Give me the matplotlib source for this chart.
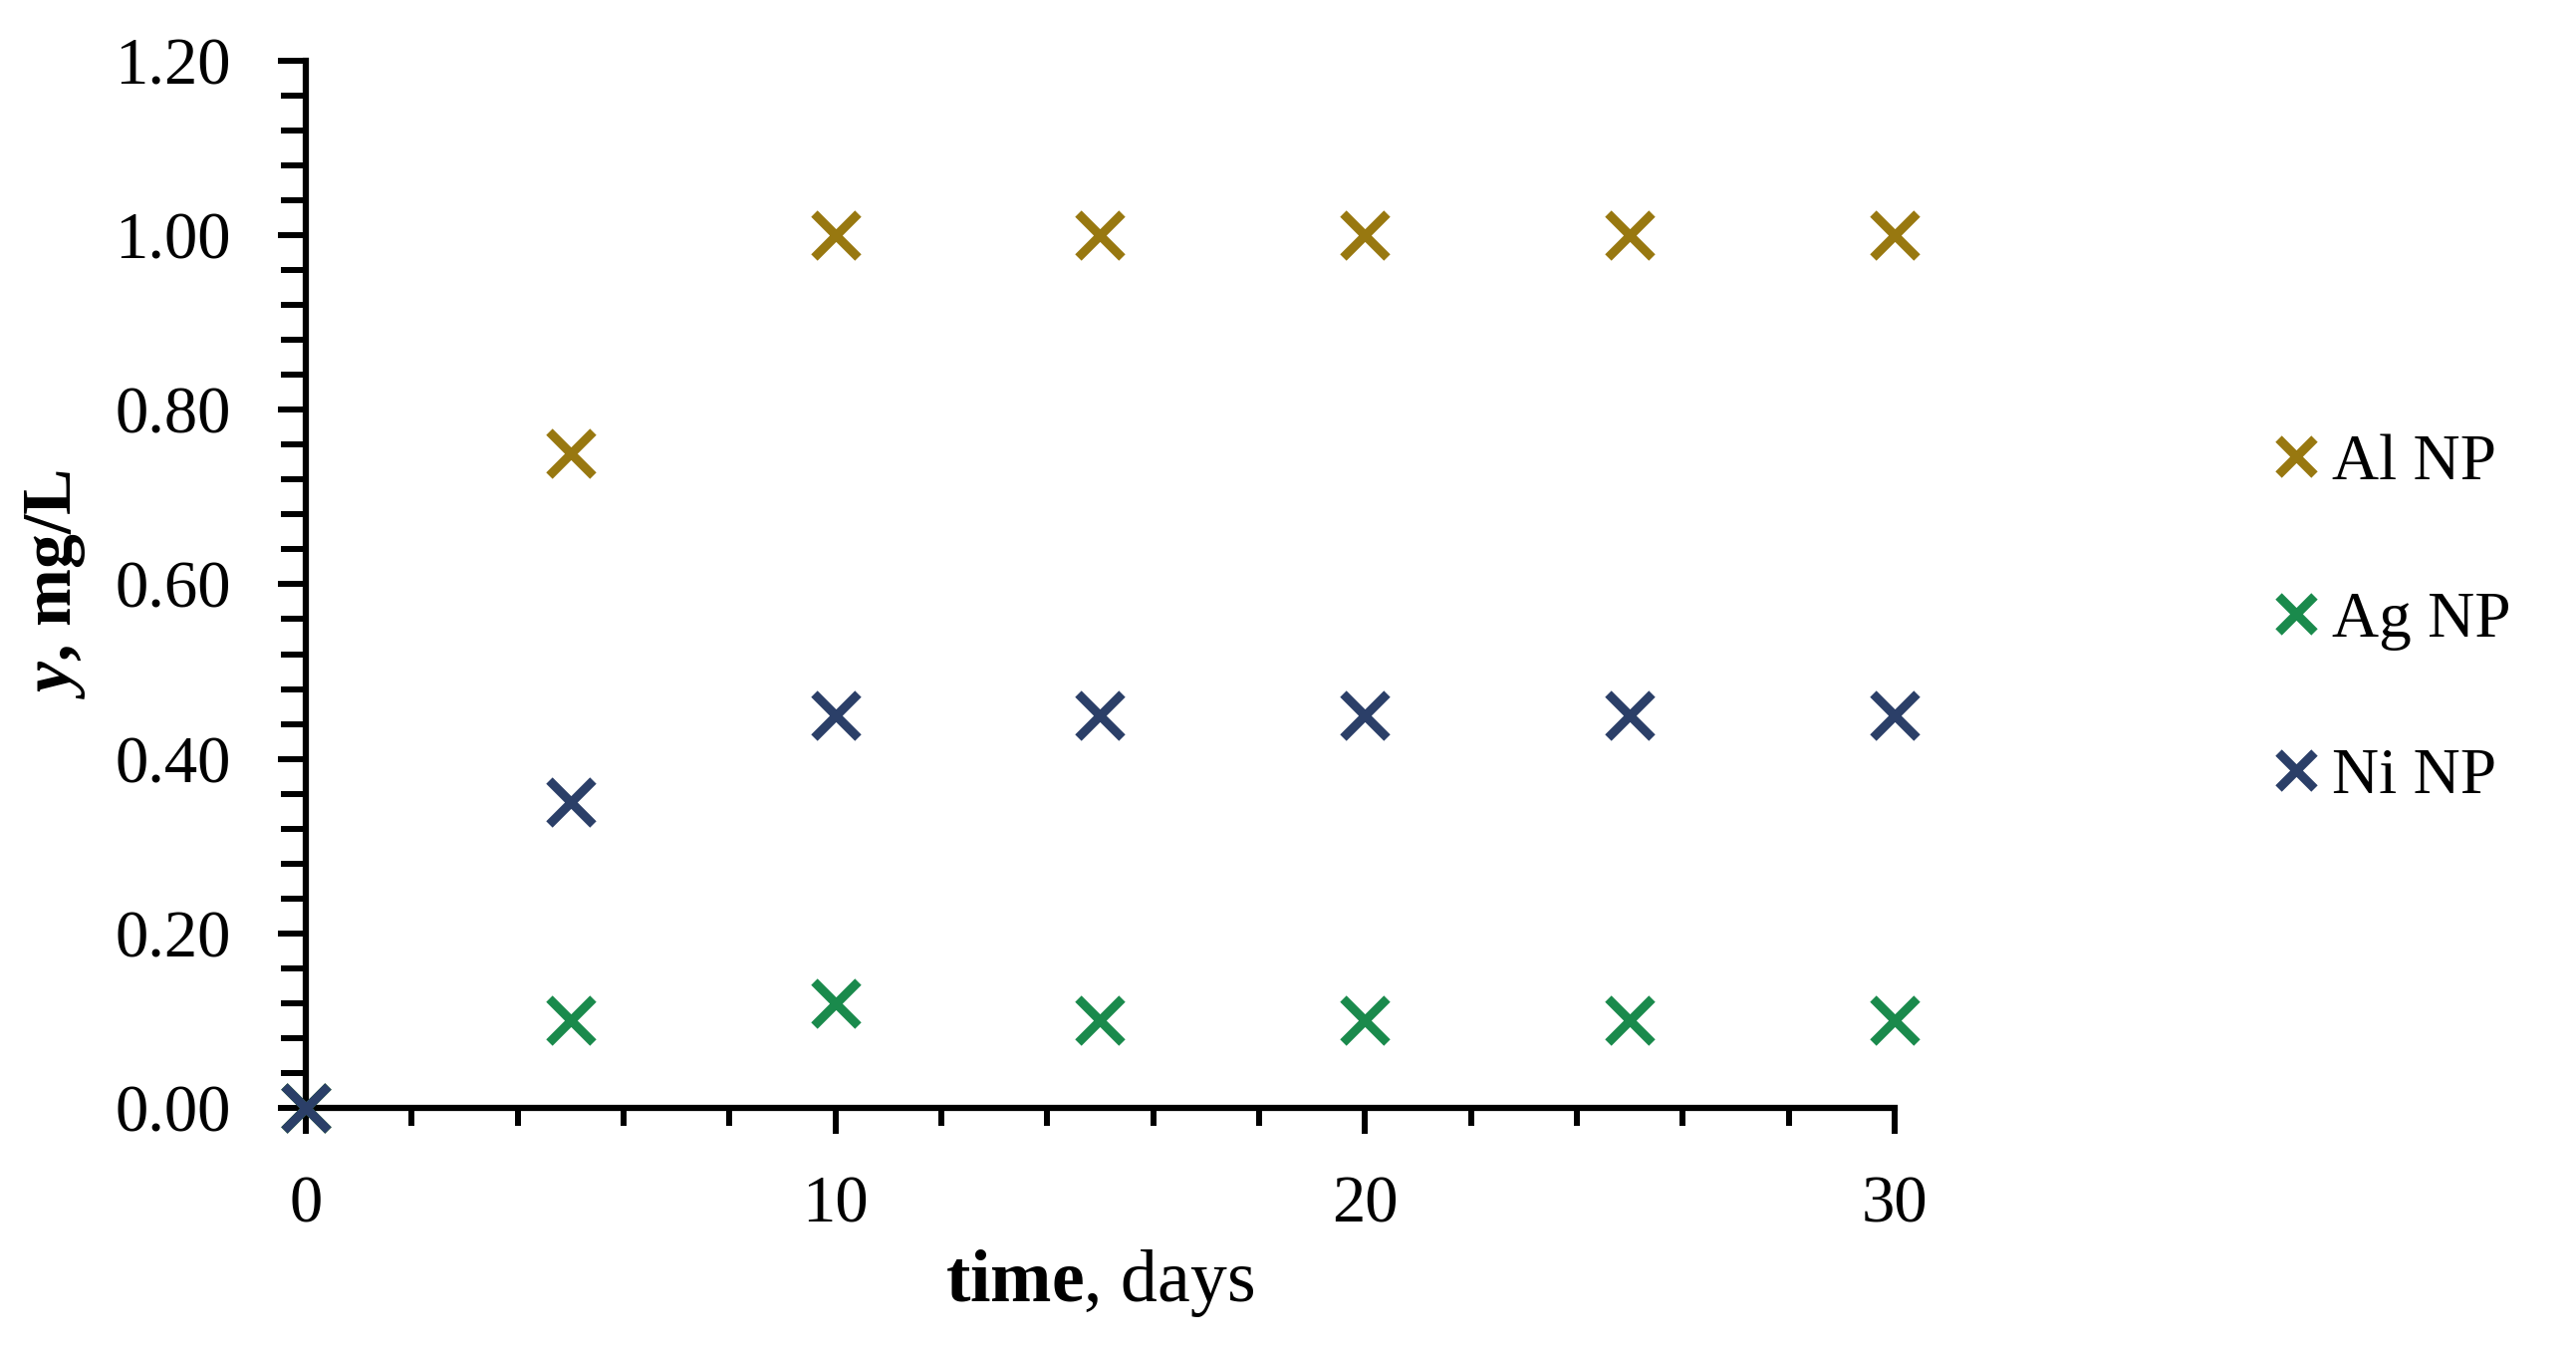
import numpy as np
import matplotlib
matplotlib.use('Agg')
import matplotlib.pyplot as plt
from matplotlib.ticker import MultipleLocator, FormatStrFormatter

# Data
days = [0, 5, 10, 15, 20, 25, 30]
al_np = [0.00, 0.75, 1.00, 1.00, 1.00, 1.00, 1.00]
ag_np = [0.00, 0.10, 0.12, 0.10, 0.10, 0.10, 0.10]
ni_np = [0.00, 0.35, 0.45, 0.45, 0.45, 0.45, 0.45]

series = [('Al NP', al_np, '#987810'),
          ('Ag NP', ag_np, '#1a8a4c'),
          ('Ni NP', ni_np, '#2b3f68')]

plt.rcParams['font.family'] = ['Liberation Serif', 'DejaVu Serif']
plt.rcParams['mathtext.fontset'] = 'custom'
plt.rcParams['mathtext.rm'] = 'Liberation Serif'
plt.rcParams['mathtext.bf'] = 'Liberation Serif:bold'
plt.rcParams['mathtext.it'] = 'Liberation Serif:italic:bold'

fig = plt.figure(figsize=(25.86, 13.61), dpi=100)
ax = fig.add_axes([0.1187, 0.1830, 0.7355 - 0.1187, 0.9552 - 0.1830])

for name, vals, col in series:
    ax.plot(days, vals, linestyle='none', marker='x', markersize=31,
            markeredgewidth=6.5, color=col, label=name, clip_on=False, zorder=5)

ax.set_xlim(0, 30)
ax.set_ylim(0, 1.2)
ax.xaxis.set_major_locator(MultipleLocator(10))
ax.xaxis.set_minor_locator(MultipleLocator(2))
ax.yaxis.set_major_locator(MultipleLocator(0.2))
ax.yaxis.set_minor_locator(MultipleLocator(0.04))
ax.yaxis.set_major_formatter(FormatStrFormatter('%.2f'))

for s in ['top', 'right']:
    ax.spines[s].set_visible(False)
for s in ['left', 'bottom']:
    ax.spines[s].set_linewidth(4.5)

ax.tick_params(which='major', direction='out', length=19, width=4.3,
               labelsize=48, pad=30)
ax.tick_params(which='minor', direction='out', length=13, width=4.3)
ax.tick_params(axis='y', which='major', length=20, pad=34)
ax.tick_params(axis='y', which='minor', length=18)

ax.set_xlabel(r'$\mathbf{time}$, days', fontsize=53, labelpad=8)
ax.set_ylabel(r'$\mathit{y}$, mg/L', fontsize=50, fontweight='bold', labelpad=20)

fig.legend(loc='center left', bbox_to_anchor=(0.875, 0.5425), frameon=False,
           fontsize=47, markerscale=0.85, handlelength=0.3, handletextpad=0.4,
           labelspacing=1.5, borderpad=0)

fig.savefig('out.png', dpi=100, facecolor='white')
